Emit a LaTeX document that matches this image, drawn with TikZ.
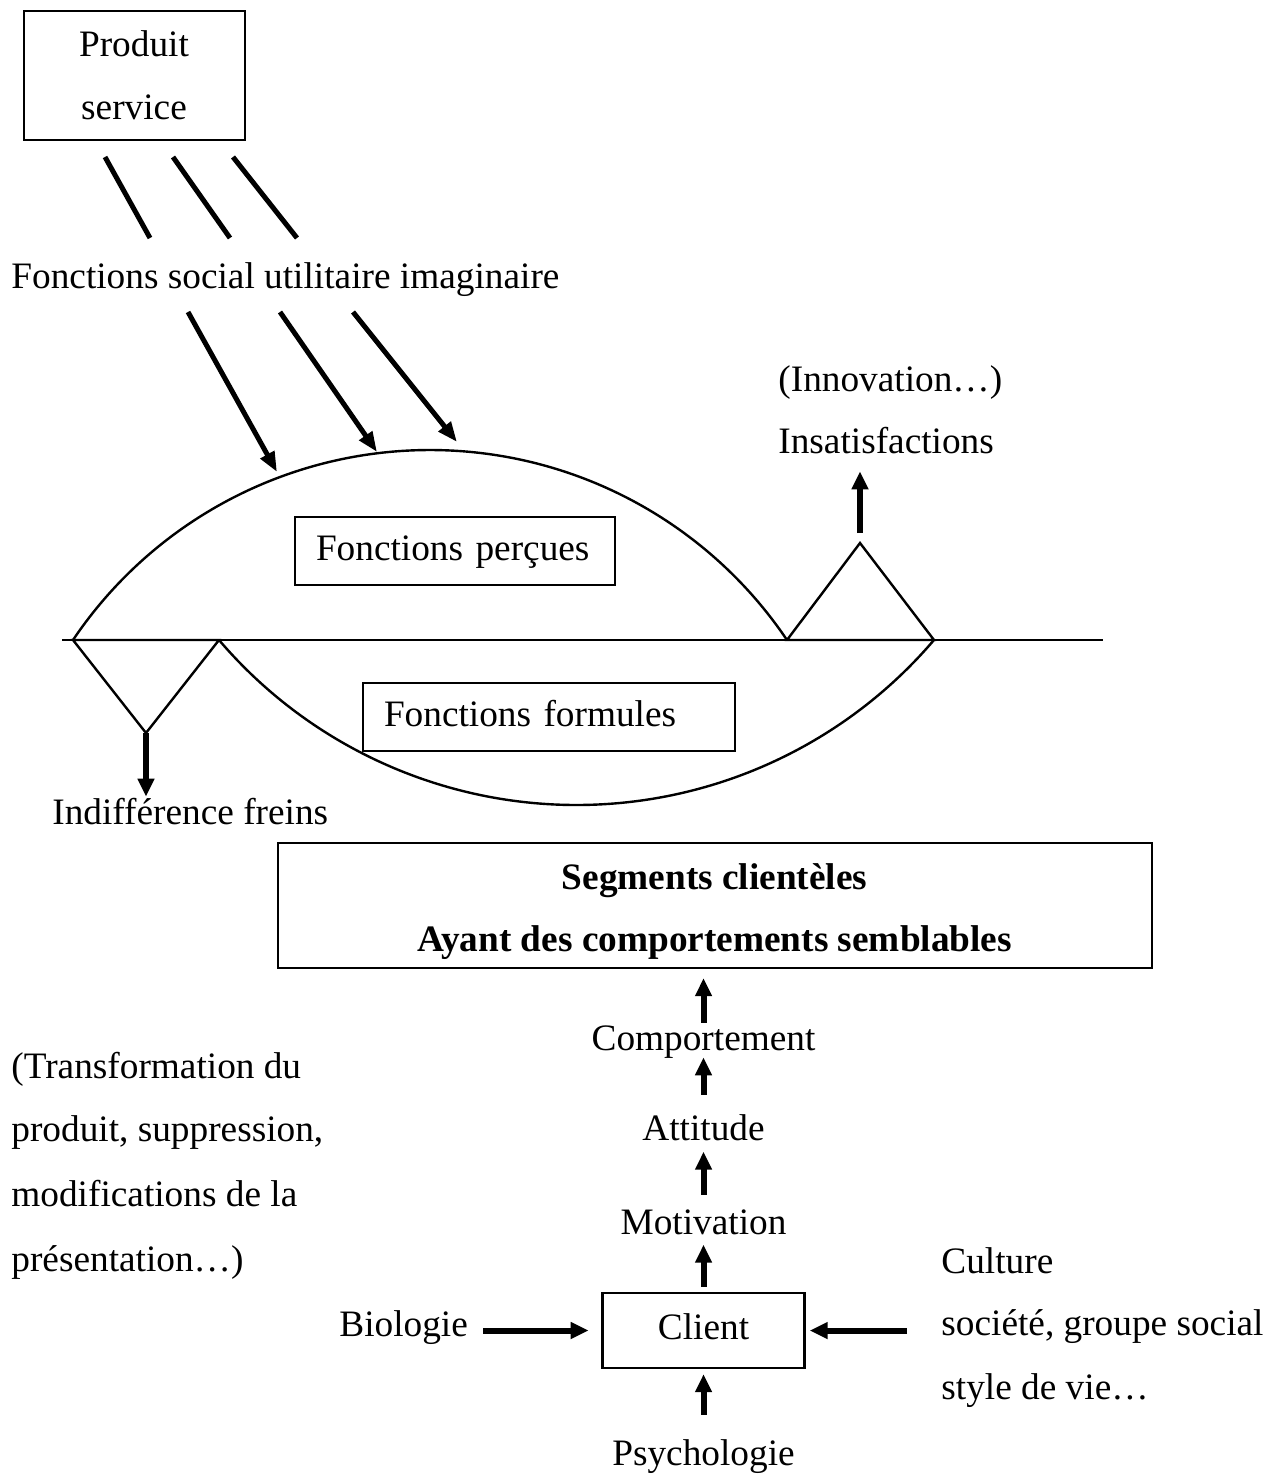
\documentclass[tikz,border=0pt]{standalone}
\usepackage{fontspec}
\setmainfont{Liberation Serif}
\usetikzlibrary{arrows.meta,calc}

\begin{document}
\begin{tikzpicture}[x=0.5pt,y=-0.5pt,
  font=\fontsize{18.65pt}{22pt}\selectfont,
  thinline/.style={line width=1.2pt},
  box/.style={draw, line width=1.2pt, inner sep=0pt},
  txt/.style={inner sep=0pt, text height=14pt, text depth=4.65pt},
  bigarrow/.style={line width=3pt, -{Triangle[width=8pt,length=9pt]}},
  slantarrow/.style={line width=2.5pt, -{Triangle[width=7.5pt,length=10pt]}},
  stroke/.style={line width=2.5pt},
]
\useasboundingbox[fill=white] (0,0) rectangle (1278,1475);

% --- product box and the three functions ---
\node[box, minimum width=110.5pt, minimum height=64.5pt] (prodbox) at (134.5,75.5) {};
\node[txt, anchor=base] (produit) at (134,57) {Produit};
\node[txt, anchor=base] (service) at (134,120) {service};

\coordinate (l1a) at (105,157); \coordinate (l1b) at (150,238);
\coordinate (l2a) at (173,157); \coordinate (l2b) at (230,238);
\coordinate (l3a) at (233,157); \coordinate (l3b) at (297,238);
\draw[stroke] (l1a) -- (l1b);
\draw[stroke] (l2a) -- (l2b);
\draw[stroke] (l3a) -- (l3b);

\node[txt, anchor=base west] (fonctions) at (11,289) {Fonctions social utilitaire imaginaire};

\coordinate (a1s) at (188,312); \coordinate (a1e) at (277,472);
\coordinate (a2s) at (280,312); \coordinate (a2e) at (377,452);
\coordinate (a3s) at (353,312); \coordinate (a3e) at (457,442);
\draw[slantarrow] (a1s) -- (a1e);
\draw[slantarrow] (a2s) -- (a2e);
\draw[slantarrow] (a3s) -- (a3e);

% --- perceived / formulated functions ---
\coordinate (hl) at (62,640);
\coordinate (hr) at (1103,640);
\coordinate (uL) at (73,640);   % left end of upper arc
\coordinate (lL) at (219,640);  % left end of lower arc
\coordinate (uR) at (787,640);  % right end of upper arc
\coordinate (lR) at (934,640);  % right end of lower arc
\coordinate (tb) at (146,733);  % bottom of left triangle
\coordinate (ta) at (860,543);  % top of right triangle

\draw[thinline] (hl) -- (hr);
\draw[thinline] (uL) arc[start angle=146.04, end angle=33.96, radius=215.2pt];
\draw[thinline] (lL) arc[start angle=220.45, end angle=319.55, radius=234.9pt];
\draw[thinline] (uL) -- (lL) -- (tb) -- cycle;
\draw[thinline] (uR) -- (lR) -- (ta) -- cycle;

\node[box, txt, text width=139pt, align=left, inner xsep=10.5pt, minimum height=34pt]
  (percues) at (455,551) {Fonctions perçues};
\node[box, txt, text width=165pt, align=left, inner xsep=10.5pt, minimum height=34pt]
  (formules) at (549,717) {Fonctions formules};

\node[txt, anchor=base west] (innov) at (778,392) {(Innovation…)};
\node[txt, anchor=base west] (insat) at (778,454) {Insatisfactions};
\draw[bigarrow, shorten <=5pt, shorten >=3.85pt] (ta) -- (ta |- insat.south);

\node[txt, anchor=base west] (indiff) at (52,824) {Indifférence freins};
\draw[bigarrow, shorten >=-0.5pt] (tb) -- (tb |- indiff.north);

% --- customer segments and the behaviour chain ---
\node[box, minimum width=436.75pt, minimum height=62.5pt] (segbox) at (715,905.5) {};
\node[txt, anchor=base] (seg1) at (714.5,889) {\bfseries Segments clientèles};
\node[txt, anchor=base] (seg2) at (714.5,951) {\bfseries Ayant des comportements semblables};

\node[txt, anchor=base] (comport) at (703.5,1050) {Comportement};
\node[txt, anchor=base] (attitude) at (703.5,1140) {Attitude};
\node[txt, anchor=base] (motiv) at (703.5,1234) {Motivation};
\node[box, txt, minimum width=101pt, minimum height=37.5pt] (client) at (703.5,1330.5) {Client};
\node[txt, anchor=base] (psycho) at (703.5,1465) {Psychologie};

\draw[bigarrow, shorten <=-0.5pt, shorten >=4.5pt] (comport.north) -- (comport.north |- segbox.south);
\draw[bigarrow, shorten <=8.5pt, shorten >=-1.15pt] (attitude.north) -- (comport.south);
\draw[bigarrow, shorten <=5.5pt, shorten >=1pt] (motiv.north) -- (attitude.south);
\draw[bigarrow, shorten <=2.5pt, shorten >=0.5pt] (client.north) -- (motiv.south);
\draw[bigarrow, shorten <=11pt, shorten >=2.5pt] (psycho.north) -- (client.south);

\node[txt, anchor=base west] (bio) at (339,1336) {Biologie};
\draw[bigarrow, shorten <=7.5pt, shorten >=6.3pt] (bio.east |- client.west) -- (client.west);

\node[txt, anchor=base west] (culture) at (941,1273) {Culture};
\node[txt, anchor=base west] (societe) at (941,1335) {société, groupe social};
\node[txt, anchor=base west] (style) at (941,1399) {style de vie…};
\draw[bigarrow, shorten <=17pt, shorten >=2pt] (societe.west |- client.east) -- (client.east);

% --- product changes note ---
\node[txt, anchor=base west] (tr1) at (11,1078) {(Transformation du};
\node[txt, anchor=base west] (tr2) at (11,1141) {produit, suppression,};
\node[txt, anchor=base west] (tr3) at (11,1206) {modifications de la};
\node[txt, anchor=base west] (tr4) at (11,1271) {présentation…)};
\end{tikzpicture}
\end{document}
